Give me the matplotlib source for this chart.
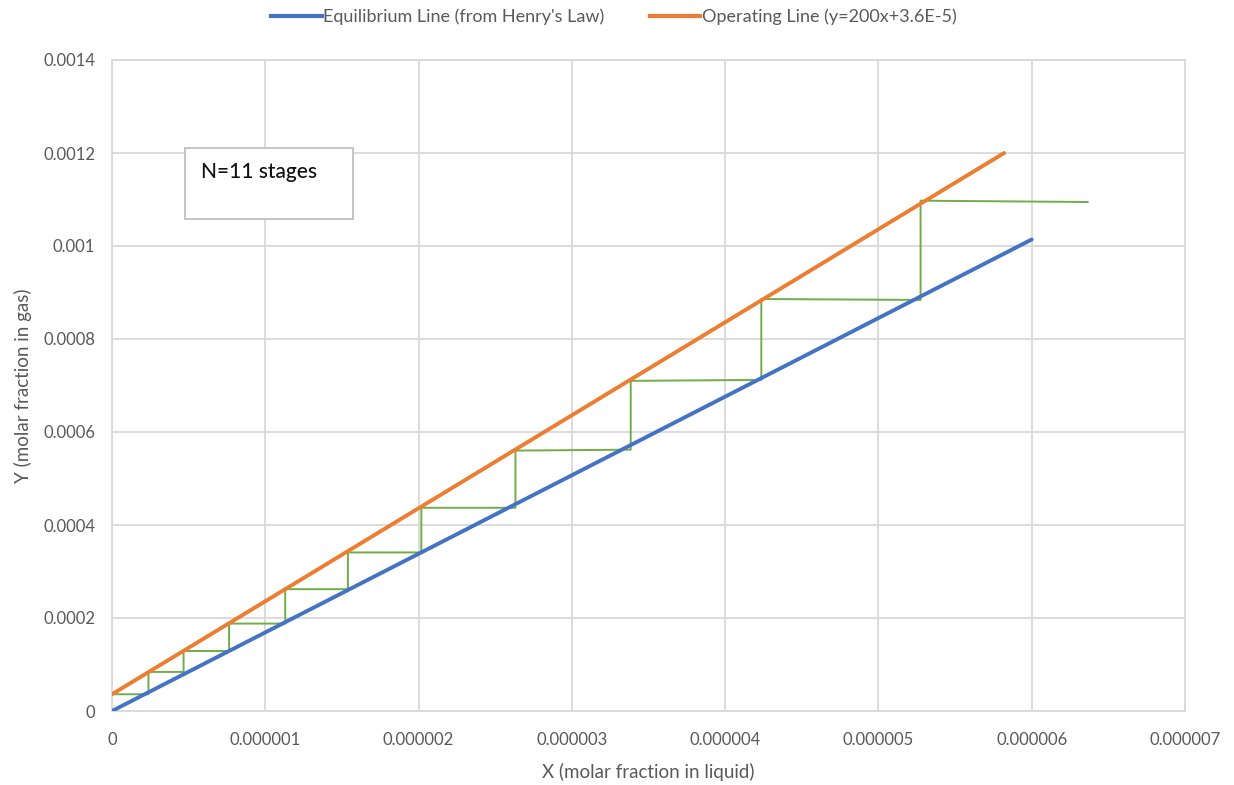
import matplotlib
matplotlib.use("Agg")
import matplotlib.pyplot as plt
from matplotlib.lines import Line2D

plt.rcParams['font.family'] = ['Lato', 'DejaVu Sans']

# ---- data ----
eq_x = [0.0, 6.0e-6]
eq_y = [0.0, 1.014e-3]

op_x = [0.0, 5.82e-6]
op_y = [3.6e-5, 200 * 5.82e-6 + 3.6e-5]

stair_x = [0.0, 2.38e-7, 2.38e-7, 4.67e-7, 4.67e-7, 7.64e-7, 7.64e-7,
           1.130e-6, 1.130e-6, 1.539e-6, 1.539e-6, 2.018e-6, 2.018e-6,
           2.632e-6, 2.632e-6, 3.384e-6, 3.384e-6, 4.236e-6, 4.236e-6,
           5.275e-6, 5.275e-6, 6.365e-6]
stair_y = [3.6e-5, 3.6e-5, 8.4e-5, 8.4e-5, 1.29e-4, 1.29e-4, 1.88e-4,
           1.88e-4, 2.62e-4, 2.62e-4, 3.41e-4, 3.41e-4, 4.37e-4,
           4.37e-4, 5.60e-4, 5.62e-4, 7.10e-4, 7.12e-4, 8.86e-4,
           8.84e-4, 1.0975e-3, 1.0946e-3]

x_ticks = [0, 1e-6, 2e-6, 3e-6, 4e-6, 5e-6, 6e-6, 7e-6]
x_tick_labels = ["0", "0.000001", "0.000002", "0.000003", "0.000004",
                 "0.000005", "0.000006", "0.000007"]
y_ticks = [0, 0.0002, 0.0004, 0.0006, 0.0008, 0.001, 0.0012, 0.0014]
y_tick_labels = ["0", "0.0002", "0.0004", "0.0006", "0.0008", "0.001",
                 "0.0012", "0.0014"]

eq_label = "Equilibrium Line (from Henry's Law)"
op_label = "Operating Line (y=200x+3.6E-5)"
annot = "N=11 stages"

# ---- figure ----
W, H = 1234, 785
fig = plt.figure(figsize=(W / 100, H / 100), dpi=100)
ax = fig.add_axes([112 / W, 1 - 711 / H, (1185 - 112) / W, (711 - 60) / H])

grid_c = "#d9d9d9"
txt_c = "#595959"

ax.plot(stair_x, stair_y, color="#70AD47", lw=1.4, zorder=2)
ax.plot(eq_x, eq_y, color="#4472C4", lw=2.8, solid_capstyle="round", zorder=3)
ax.plot(op_x, op_y, color="#ED7D31", lw=2.8, solid_capstyle="round", zorder=3)

ax.set_xlim(0, 7e-6)
ax.set_ylim(0, 0.0014)
ax.set_xticks(x_ticks)
ax.set_xticklabels(x_tick_labels)
ax.set_yticks(y_ticks)
ax.set_yticklabels(y_tick_labels)
ax.tick_params(length=0, labelsize=12, colors=txt_c)
ax.tick_params(axis="x", pad=15)
ax.tick_params(axis="y", pad=12)
ax.grid(True, color=grid_c, lw=1.3)
ax.set_axisbelow(True)
for s in ax.spines.values():
    s.set_color(grid_c)
    s.set_linewidth(1.3)

ax.set_xlabel("X (molar fraction in liquid)", fontsize=13.5, color=txt_c, labelpad=11)
ax.set_ylabel("Y (molar fraction in gas)", fontsize=13.5, color=txt_c, labelpad=8)

# annotation box
fig.patches.append(plt.Rectangle((185 / W, 1 - 219 / H), (353 - 185) / W, (219 - 148) / H,
                                 transform=fig.transFigure, facecolor="white",
                                 edgecolor="#bfbfbf", lw=1.3, zorder=5))
fig.text(201 / W, 1 - 172 / H, annot, fontsize=15, color="#111111",
         fontweight="medium", va="center", ha="left", zorder=6)

# legend
handles = [Line2D([], [], color="#4472C4", lw=3),
           Line2D([], [], color="#ED7D31", lw=3)]
fig.legend(handles, [eq_label, op_label], loc="center", ncol=2,
           bbox_to_anchor=(614 / W, 1 - 17 / H), frameon=False,
           fontsize=13, labelcolor=txt_c, handlelength=2.8,
           handletextpad=0.1, columnspacing=2.5)

fig.savefig("out.png", dpi=100)
